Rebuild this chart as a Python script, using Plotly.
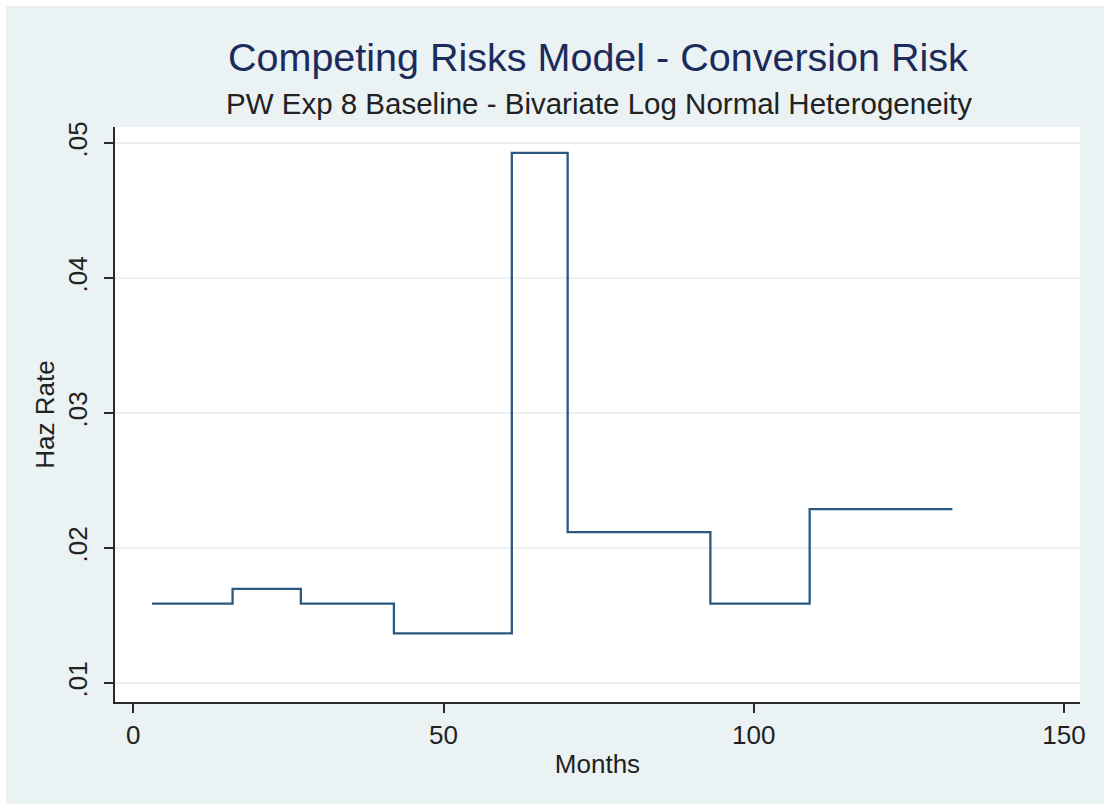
import plotly.graph_objects as go

# Piecewise-exponential baseline: interval start (months) and hazard per interval
interval_start = [3, 16, 27, 42, 61, 70, 93, 109]
interval_end_last = 132
hazard_rate = [0.0159, 0.0170, 0.0159, 0.0137, 0.0493, 0.0212, 0.0159, 0.0229]

x_tick_vals = [0, 50, 100, 150]
x_tick_text = ["0", "50", "100", "150"]
y_tick_vals = [0.01, 0.02, 0.03, 0.04, 0.05]
y_tick_text = [".01", ".02", ".03", ".04", ".05"]

title_text = "Competing Risks Model - Conversion Risk"
subtitle_text = "PW Exp 8 Baseline - Bivariate Log Normal Heterogeneity"
x_title = "Months"
y_title = "Haz Rate"

W, H = 1104, 804
ML, MR, MT, MB = 115, 24, 127, 102
PW, PH = W - ML - MR, H - MT - MB

FONT = "Liberation Sans, Arial, sans-serif"
BG = "#eaf2f3"
LINE = "#2b5982"


def px_x(p):
    return (p - ML) / PW


def px_y(p):
    return (H - MB - p) / PH


# step path: each interval holds its hazard until the next start
step_x = interval_start + [interval_end_last]
step_y = hazard_rate + [hazard_rate[-1]]

fig = go.Figure()
fig.add_trace(go.Scatter(
    x=step_x, y=step_y, mode="lines",
    line=dict(shape="hv", color=LINE, width=2.3),
    showlegend=False, hoverinfo="skip",
))

fig.update_layout(
    width=W, height=H,
    margin=dict(l=ML, r=MR, t=MT, b=MB, pad=0),
    paper_bgcolor=BG, plot_bgcolor="white",
    font=dict(family=FONT, color="#222222"),
    showlegend=False,
)

fig.update_xaxes(
    range=[-2.95, 152.57], tickmode="array",
    tickvals=x_tick_vals, ticktext=x_tick_text,
    ticks="outside", ticklen=9, tickwidth=2, tickcolor="#2a2a2a",
    showline=True, linecolor="#2a2a2a", linewidth=2, mirror=False,
    showgrid=False, zeroline=False,
    tickfont=dict(size=26, color="#222222"),
    title=dict(text=x_title, font=dict(size=26, color="#222222"), standoff=6),
)
fig.update_yaxes(
    range=[0.008615, 0.05121], tickmode="array",
    tickvals=y_tick_vals, ticktext=y_tick_text, tickangle=-90,
    ticks="outside", ticklen=9, tickwidth=2, tickcolor="#2a2a2a",
    ticklabelstandoff=7,
    showline=True, linecolor="#2a2a2a", linewidth=2, mirror=False,
    showgrid=True, gridcolor="#ecf2f4", gridwidth=2, zeroline=False,
    tickfont=dict(size=26, color="#222222"),
    title=dict(text=y_title, font=dict(size=26, color="#222222"), standoff=0),
)

# title and subtitle
fig.add_annotation(
    text=title_text, xref="paper", yref="paper",
    x=px_x(598), y=px_y(57), xanchor="center", yanchor="middle",
    showarrow=False, font=dict(family=FONT, size=39.5, color="#1c2b5c"),
)
fig.add_annotation(
    text=subtitle_text, xref="paper", yref="paper",
    x=px_x(599), y=px_y(103), xanchor="center", yanchor="middle",
    showarrow=False, font=dict(family=FONT, size=29.5, color="#222222"),
)

# thin white frame along the top and left edges of the graph region
fig.add_shape(type="rect", xref="paper", yref="paper",
              x0=px_x(0), x1=px_x(6), y0=px_y(H), y1=px_y(0),
              fillcolor="white", line=dict(width=0), layer="above")
fig.add_shape(type="rect", xref="paper", yref="paper",
              x0=px_x(0), x1=px_x(W), y0=px_y(6), y1=px_y(0),
              fillcolor="white", line=dict(width=0), layer="above")

fig.write_html("out.html")
